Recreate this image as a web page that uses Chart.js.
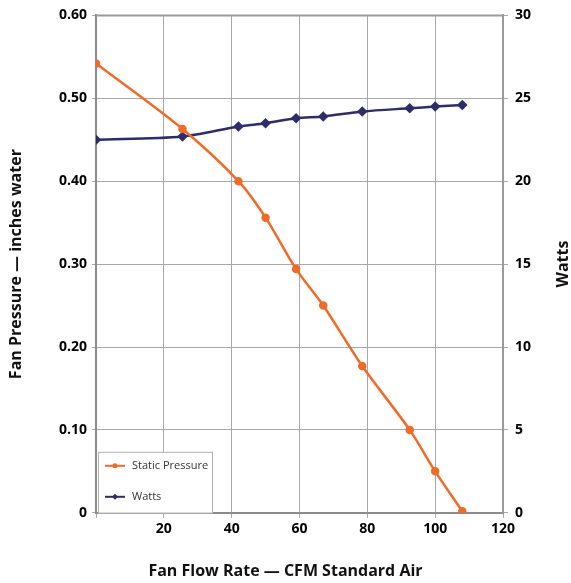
<!DOCTYPE html>
<html>
<head>
<meta charset="utf-8">
<script src="https://cdn.jsdelivr.net/npm/chart.js@4.4.0/dist/chart.umd.min.js"></script>
<style>
  html, body { margin: 0; padding: 0; background: #fff; }
  #wrap { width: 571px; height: 583px; }
</style>
</head>
<body>
<div id="wrap"><canvas id="fanChart"></canvas></div>
<script>
const flowRate = [0, 25.5, 42, 50, 59, 67, 78.5, 92.5, 100, 108];
const staticPressure = [0.542, 0.463, 0.400, 0.356, 0.294, 0.250, 0.177, 0.100, 0.050, 0.002];
const watts = [22.5, 22.7, 23.3, 23.5, 23.8, 23.9, 24.2, 24.4, 24.5, 24.6];
const seriesNames = ["Static Pressure", "Watts"];
const xTitle = "Fan Flow Rate — CFM Standard Air";
const yTitle = "Fan Pressure — inches water";
const y1Title = "Watts";

const orange = "rgb(242,106,40)";
const navy = "rgb(46,45,104)";
const gridGray = "#a8a8a8";
const axisGray = "#8c8c8c";
const fontFam = "'Open Sans', 'DejaVu Sans', sans-serif";

const toPoints = function (ys) {
    return flowRate.map(function (x, i) { return { x: x, y: ys[i] }; });
};

// plot frame (top and right edges)
const framePlugin = {
    id: "frame",
    beforeDatasetsDraw: function (chart) {
        const a = chart.chartArea, ctx = chart.ctx;
        ctx.save();
        ctx.strokeStyle = "#9a9a9a";
        ctx.lineWidth = 2;
        ctx.beginPath();
        ctx.moveTo(a.left, a.top);
        ctx.lineTo(a.right, a.top);
        ctx.lineTo(a.right, a.bottom);
        ctx.stroke();
        ctx.restore();
    }
};

// legend box inside the plot + right axis title reading upwards
const extrasPlugin = {
    id: "extras",
    afterDraw: function (chart) {
        const a = chart.chartArea, ctx = chart.ctx;
        const sets = chart.data.datasets;
        const bx = a.left + 2, by = a.bottom - 61, bw = 114, bh = 61;
        ctx.save();
        ctx.fillStyle = "#fff";
        ctx.fillRect(bx, by, bw, bh);
        ctx.strokeStyle = "#b0b0b0";
        ctx.lineWidth = 1;
        ctx.strokeRect(bx + 0.5, by + 0.5, bw, bh);
        sets.forEach(function (ds, i) {
            const ly = by + 14 + i * 31;
            ctx.strokeStyle = ds.borderColor;
            ctx.lineWidth = 2;
            ctx.beginPath();
            ctx.moveTo(bx + 7, ly);
            ctx.lineTo(bx + 27, ly);
            ctx.stroke();
            ctx.fillStyle = ds.borderColor;
            ctx.beginPath();
            if (ds.pointStyle === "rectRot") {
                ctx.moveTo(bx + 17, ly - 3); ctx.lineTo(bx + 20, ly);
                ctx.lineTo(bx + 17, ly + 3); ctx.lineTo(bx + 14, ly);
            } else {
                ctx.arc(bx + 17, ly, 2.5, 0, Math.PI * 2);
            }
            ctx.fill();
            ctx.fillStyle = "#333";
            ctx.font = "11px " + fontFam;
            ctx.textBaseline = "middle";
            ctx.fillText(ds.label, bx + 34, ly);
        });
        ctx.translate(563, (a.top + a.bottom) / 2);
        ctx.rotate(-Math.PI / 2);
        ctx.fillStyle = "#111";
        ctx.font = "bold 16px " + fontFam;
        ctx.textAlign = "center";
        ctx.textBaseline = "middle";
        ctx.fillText(y1Title, 0, 0);
        ctx.restore();
    }
};

new Chart("fanChart", {
    type: "line",
    data: {
        datasets: [
            {
                label: seriesNames[0],
                data: toPoints(staticPressure),
                yAxisID: "y",
                borderColor: orange,
                backgroundColor: orange,
                borderWidth: 2.5,
                pointStyle: "circle",
                pointRadius: 3,
                pointHoverRadius: 3,
                tension: 0.3
            },
            {
                label: seriesNames[1],
                data: toPoints(watts),
                yAxisID: "y1",
                borderColor: navy,
                backgroundColor: navy,
                borderWidth: 2.5,
                pointStyle: "rectRot",
                pointRadius: 3.5,
                pointHoverRadius: 3.5,
                tension: 0.3
            }
        ]
    },
    options: {
        responsive: true,
        maintainAspectRatio: false,
        animation: false,
        layout: { padding: { top: 14, left: 0, right: 0, bottom: 0 } },
        plugins: {
            legend: { display: false },
            tooltip: { enabled: false },
            title: {
                display: true,
                position: "bottom",
                text: xTitle,
                color: "#111",
                font: { family: fontFam, size: 16, weight: "bold" },
                padding: { top: 0, bottom: 2 }
            }
        },
        scales: {
            x: {
                type: "linear",
                min: 0,
                max: 120,
                afterFit: function (s) { s.height = 49; },
                ticks: {
                    stepSize: 20,
                    color: "#000",
                    padding: 3,
                    font: { family: fontFam, size: 14, weight: "bold" },
                    callback: function (v) { return v === 0 ? "" : v; }
                },
                grid: { color: gridGray, tickLength: 5, tickColor: gridGray },
                border: { color: axisGray, width: 2 }
            },
            y: {
                position: "left",
                min: 0,
                max: 0.6,
                afterFit: function (s) { s.width = 96; },
                ticks: {
                    stepSize: 0.1,
                    color: "#000",
                    padding: 5,
                    font: { family: fontFam, size: 14, weight: "bold" },
                    callback: function (v) { return v === 0 ? "0" : v.toFixed(2); }
                },
                grid: { color: gridGray, tickLength: 4, tickColor: gridGray },
                border: { color: axisGray, width: 2 },
                title: {
                    display: true,
                    text: yTitle,
                    color: "#111",
                    font: { family: fontFam, size: 16, weight: "bold" },
                    padding: { top: 7, bottom: 0 }
                }
            },
            y1: {
                position: "right",
                min: 0,
                max: 30,
                afterFit: function (s) { s.width = 68; },
                ticks: {
                    stepSize: 5,
                    color: "#000",
                    padding: 7,
                    font: { family: fontFam, size: 14, weight: "bold" }
                },
                grid: { drawOnChartArea: false, tickLength: 5, tickColor: gridGray },
                border: { color: "#9a9a9a", width: 2 }
            }
        }
    },
    plugins: [framePlugin, extrasPlugin]
});
</script>
</body>
</html>
